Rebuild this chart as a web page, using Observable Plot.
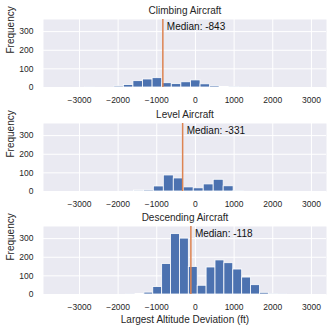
<!DOCTYPE html>
<html><head><meta charset="utf-8">
<script src="https://cdn.jsdelivr.net/npm/d3@7"></script>
<script src="https://cdn.jsdelivr.net/npm/@observablehq/plot@0.6"></script>
<style>body{margin:0;background:#fff;} svg{display:block}</style>
</head><body><div id="chart"></div>
<script>
const xTicks = [-3000, -2000, -1000, 0, 1000, 2000, 3000];
const yTicks = [0, 100, 200, 300];
const panelTitles = ["Climbing Aircraft", "Level Aircraft", "Descending Aircraft"];
const medians = [-843, -331, -118];
const xLabel = "Largest Altitude Deviation (ft)";
const yLabel = "Frequency";

// Bin lower edges, bin widths and counts for each panel
const climbingEdges = [-2844, -2596, -2348, -2100, -1852, -1604, -1356, -1108, -860, -612, -364, -116, 132, 380, 628, 876, 1124];
const climbingWidth = 248;
const climbingCounts = [1, 0, 0, 6, 13, 34, 43, 50, 23, 18, 28, 38, 17, 7, 3, 2, 1];

const levelEdges = [-1850, -1592, -1334, -1076, -818, -560, -302, -44, 214, 472, 730, 988];
const levelWidth = 258;
const levelCounts = [1, 5, 6, 27, 86, 70, 22, 17, 38, 63, 28, 2];

const descendingEdges = [-1781, -1551, -1321, -1091, -861, -631, -401, -171, 59, 289, 519, 749, 979, 1209, 1439, 1669, 1899, 2129];
const descendingWidth = 230;
const descendingCounts = [1, 3, 10, 40, 164, 324, 300, 148, 47, 145, 183, 168, 134, 91, 50, 9, 2, 1];

const FONT = "'Liberation Sans', Arial, Helvetica, sans-serif";
const fmt = d3.format("d");

function panel(title, edges, width, counts, median, height, mt, mb, showXLabel) {
  const data = edges.map((e, j) => ({x1: e, x2: e + width, count: counts[j]}));
  return Plot.plot({
    width: 333, height, marginTop: mt, marginBottom: mb, marginLeft: 43, marginRight: 7,
    style: {fontFamily: FONT, fontSize: "8.5px", color: "#262626", background: "#fff"},
    x: {domain: [-3930, 3390]},
    y: {domain: [0, 365]},
    marks: [
      Plot.frame({fill: "#eaeaf2", stroke: null}),
      Plot.gridX(xTicks, {stroke: "#fff", strokeOpacity: 1, strokeWidth: 1}),
      Plot.gridY(yTicks, {stroke: "#fff", strokeOpacity: 1, strokeWidth: 1}),
      Plot.rectY(data, {x1: "x1", x2: "x2", y: "count", fill: "#4c72b0", stroke: "#fff", strokeWidth: 0.8}),
      Plot.ruleX([median], {stroke: "#dd8452", strokeWidth: 1.5}),
      Plot.text([median], {x: d => d, text: d => `Median: ${d}`, frameAnchor: "top", dy: 7, dx: 4, textAnchor: "start", lineAnchor: "middle", fontSize: 10, fill: "#111"}),
      Plot.axisX(xTicks, {tickSize: 0, tickPadding: 9, label: null, tickFormat: fmt}),
      Plot.axisY(yTicks, {tickSize: 0, tickPadding: 10, label: null, tickFormat: fmt}),
      Plot.text([title], {frameAnchor: "top", dy: -9, lineAnchor: "middle", fontSize: 10, fill: "#262626"}),
      Plot.text([yLabel], {frameAnchor: "left", rotate: -90, dx: -33, lineAnchor: "middle", fontSize: 10, fill: "#262626"}),
      ...(showXLabel ? [Plot.text([xLabel], {frameAnchor: "bottom", dy: 25, lineAnchor: "middle", fontSize: 10, fill: "#262626"})] : [])
    ]
  });
}

const chart = document.getElementById("chart");
chart.append(panel(panelTitles[0], climbingEdges, climbingWidth, climbingCounts, medians[0], 105, 19, 18, false));
chart.append(panel(panelTitles[1], levelEdges, levelWidth, levelCounts, medians[1], 105, 18, 19, false));
chart.append(panel(panelTitles[2], descendingEdges, descendingWidth, descendingCounts, medians[2], 121, 16, 37, true));
</script>
</body></html>
